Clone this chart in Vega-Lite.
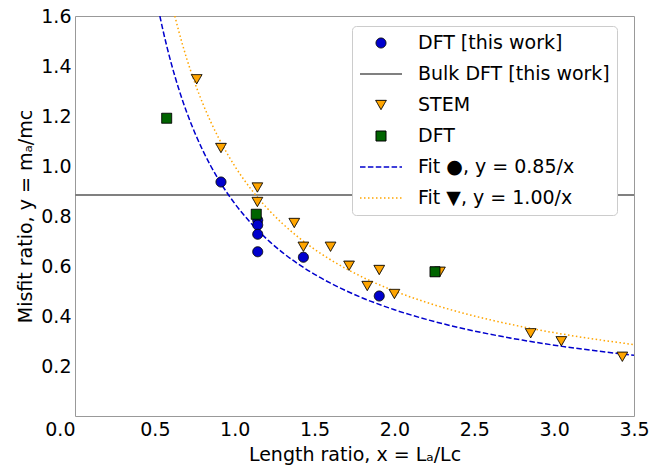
{
  "$schema": "https://vega.github.io/schema/vega-lite/v6.json",
  "width": 559,
  "height": 400,
  "autosize": {"type": "none"},
  "padding": {"left": 75, "top": 16, "right": 17, "bottom": 59},
  "background": "white",
  "config": {
    "font": "DejaVu Sans",
    "view": {"stroke": "#999999", "strokeWidth": 1},
    "axis": {
      "grid": false,
      "ticks": false,
      "domain": false,
      "labelFont": "DejaVu Sans",
      "labelFontSize": 19,
      "labelColor": "black",
      "titleFont": "DejaVu Sans",
      "titleFontSize": 19,
      "titleFontWeight": "normal",
      "titleColor": "black"
    },
    "legend": {
      "orient": "none",
      "legendX": 277,
      "legendY": 10,
      "padding": 7,
      "rowPadding": 11,
      "clipHeight": 20,
      "labelOffset": 15,
      "labelFont": "DejaVu Sans",
      "labelFontSize": 19,
      "labelColor": "black",
      "labelLimit": 400,
      "strokeColor": "#cccccc",
      "fillColor": "white",
      "cornerRadius": 4
    }
  },
  "datasets": {
    "points": [
      {"series": "DFT [this work]", "x": 0.914, "y": 0.936},
      {"series": "DFT [this work]", "x": 1.144, "y": 0.783},
      {"series": "DFT [this work]", "x": 1.144, "y": 0.764},
      {"series": "DFT [this work]", "x": 1.144, "y": 0.727},
      {"series": "DFT [this work]", "x": 1.144, "y": 0.657},
      {"series": "DFT [this work]", "x": 1.43, "y": 0.635},
      {"series": "DFT [this work]", "x": 1.905, "y": 0.48},
      {"series": "STEM", "x": 0.762, "y": 1.347},
      {"series": "STEM", "x": 0.914, "y": 1.072},
      {"series": "STEM", "x": 1.142, "y": 0.914},
      {"series": "STEM", "x": 1.142, "y": 0.856},
      {"series": "STEM", "x": 1.373, "y": 0.772},
      {"series": "STEM", "x": 1.43, "y": 0.677},
      {"series": "STEM", "x": 1.6, "y": 0.677},
      {"series": "STEM", "x": 1.716, "y": 0.601},
      {"series": "STEM", "x": 1.83, "y": 0.52},
      {"series": "STEM", "x": 1.905, "y": 0.584},
      {"series": "STEM", "x": 2.0, "y": 0.488},
      {"series": "STEM", "x": 2.285, "y": 0.577},
      {"series": "STEM", "x": 2.853, "y": 0.331},
      {"series": "STEM", "x": 3.045, "y": 0.299},
      {"series": "STEM", "x": 3.427, "y": 0.237},
      {"series": "DFT", "x": 0.574, "y": 1.191},
      {"series": "DFT", "x": 1.135, "y": 0.807},
      {"series": "DFT", "x": 2.254, "y": 0.577}
    ],
    "bulk": [{"y": 0.884}],
    "fit085": [
      {"x": 0.53125, "y": 1.6},
      {"x": 0.55, "y": 1.5455},
      {"x": 0.575, "y": 1.4783},
      {"x": 0.6, "y": 1.4167},
      {"x": 0.625, "y": 1.36},
      {"x": 0.65, "y": 1.3077},
      {"x": 0.7, "y": 1.2143},
      {"x": 0.75, "y": 1.1333},
      {"x": 0.8, "y": 1.0625},
      {"x": 0.85, "y": 1.0},
      {"x": 0.9, "y": 0.9444},
      {"x": 1.0, "y": 0.85},
      {"x": 1.1, "y": 0.7727},
      {"x": 1.2, "y": 0.7083},
      {"x": 1.3, "y": 0.6538},
      {"x": 1.4, "y": 0.6071},
      {"x": 1.5, "y": 0.5667},
      {"x": 1.6, "y": 0.53125},
      {"x": 1.8, "y": 0.4722},
      {"x": 2.0, "y": 0.425},
      {"x": 2.2, "y": 0.3864},
      {"x": 2.4, "y": 0.3542},
      {"x": 2.6, "y": 0.3269},
      {"x": 2.8, "y": 0.3036},
      {"x": 3.0, "y": 0.2833},
      {"x": 3.2, "y": 0.2656},
      {"x": 3.5, "y": 0.2429}
    ],
    "fit100": [
      {"x": 0.625, "y": 1.6},
      {"x": 0.65, "y": 1.5385},
      {"x": 0.675, "y": 1.4815},
      {"x": 0.7, "y": 1.4286},
      {"x": 0.75, "y": 1.3333},
      {"x": 0.8, "y": 1.25},
      {"x": 0.85, "y": 1.1765},
      {"x": 0.9, "y": 1.1111},
      {"x": 1.0, "y": 1.0},
      {"x": 1.1, "y": 0.9091},
      {"x": 1.2, "y": 0.8333},
      {"x": 1.3, "y": 0.7692},
      {"x": 1.4, "y": 0.7143},
      {"x": 1.5, "y": 0.6667},
      {"x": 1.6, "y": 0.625},
      {"x": 1.8, "y": 0.5556},
      {"x": 2.0, "y": 0.5},
      {"x": 2.2, "y": 0.4545},
      {"x": 2.4, "y": 0.4167},
      {"x": 2.6, "y": 0.3846},
      {"x": 2.8, "y": 0.3571},
      {"x": 3.0, "y": 0.3333},
      {"x": 3.2, "y": 0.3125},
      {"x": 3.5, "y": 0.2857}
    ]
  },
  "encoding": {
    "x": {
      "field": "x",
      "type": "quantitative",
      "scale": {"domain": [0, 3.5], "nice": false, "zero": false},
      "axis": {
        "title": "Length ratio, x = Lₐ/Lc",
        "values": [0, 0.5, 1, 1.5, 2, 2.5, 3, 3.5],
        "format": ".1f",
        "labelPadding": 4,
        "labelAlign": {"condition": {"test": "datum.value == 0", "value": "right"}, "value": "center"},
        "titlePadding": 6
      }
    },
    "y": {
      "field": "y",
      "type": "quantitative",
      "scale": {"domain": [0, 1.6], "nice": false, "zero": false},
      "axis": {
        "title": "Misfit ratio, y = mₐ/mc",
        "values": [0, 0.2, 0.4, 0.6, 0.8, 1.0, 1.2, 1.4, 1.6],
        "format": ".1f",
        "labelExpr": "datum.value == 0 ? '' : datum.label",
        "labelPadding": 4,
        "titlePadding": 5
      }
    }
  },
  "layer": [
    {
      "data": {"name": "bulk"},
      "mark": {"type": "rule", "color": "gray", "strokeWidth": 2},
      "encoding": {"x": null}
    },
    {
      "data": {"name": "fit085"},
      "mark": {"type": "line", "color": "mediumblue", "strokeWidth": 1.5, "strokeDash": [5.5, 2.4], "clip": true, "interpolate": "monotone"}
    },
    {
      "data": {"name": "fit100"},
      "mark": {"type": "line", "color": "orange", "strokeWidth": 1.5, "strokeDash": [1.5, 2.5], "clip": true, "interpolate": "monotone"}
    },
    {
      "data": {"name": "points"},
      "mark": {"type": "point", "filled": true, "opacity": 1, "fillOpacity": 1, "strokeOpacity": 1},
      "encoding": {
        "shape": {
          "field": "series",
          "type": "nominal",
          "scale": {
            "domain": ["DFT [this work]", "Bulk DFT [this work]", "STEM", "DFT", "Fit ●, y = 0.85/x", "Fit ▼, y = 1.00/x"],
            "range": ["circle", "M-1,0L1,0", "triangle-down", "square", "M-1,0L1,0", "M-1,0L1,0"]
          },
          "legend": {"title": null}
        },
        "fill": {
          "field": "series",
          "type": "nominal",
          "scale": {
            "domain": ["DFT [this work]", "Bulk DFT [this work]", "STEM", "DFT", "Fit ●, y = 0.85/x", "Fit ▼, y = 1.00/x"],
            "range": ["mediumblue", "transparent", "orange", "darkgreen", "transparent", "transparent"]
          },
          "legend": {"title": null}
        },
        "stroke": {
          "field": "series",
          "type": "nominal",
          "scale": {
            "domain": ["DFT [this work]", "Bulk DFT [this work]", "STEM", "DFT", "Fit ●, y = 0.85/x", "Fit ▼, y = 1.00/x"],
            "range": ["black", "gray", "black", "black", "mediumblue", "orange"]
          },
          "legend": {"title": null}
        },
        "strokeDash": {
          "field": "series",
          "type": "nominal",
          "scale": {
            "domain": ["DFT [this work]", "Bulk DFT [this work]", "STEM", "DFT", "Fit ●, y = 0.85/x", "Fit ▼, y = 1.00/x"],
            "range": [[1, 0], [1, 0], [1, 0], [1, 0], [5.5, 2.4], [1.5, 2.5]]
          },
          "legend": {"title": null}
        },
        "strokeWidth": {
          "field": "series",
          "type": "nominal",
          "scale": {
            "type": "ordinal",
            "domain": ["DFT [this work]", "Bulk DFT [this work]", "STEM", "DFT", "Fit ●, y = 0.85/x", "Fit ▼, y = 1.00/x"],
            "range": [1, 2, 1, 1, 1.5, 1.5]
          },
          "legend": {"title": null}
        },
        "size": {
          "field": "series",
          "type": "nominal",
          "scale": {
            "type": "ordinal",
            "domain": ["DFT [this work]", "Bulk DFT [this work]", "STEM", "DFT", "Fit ●, y = 0.85/x", "Fit ▼, y = 1.00/x"],
            "range": [100, 1764, 115, 100, 1764, 1764]
          },
          "legend": {"title": null}
        }
      }
    }
  ]
}
